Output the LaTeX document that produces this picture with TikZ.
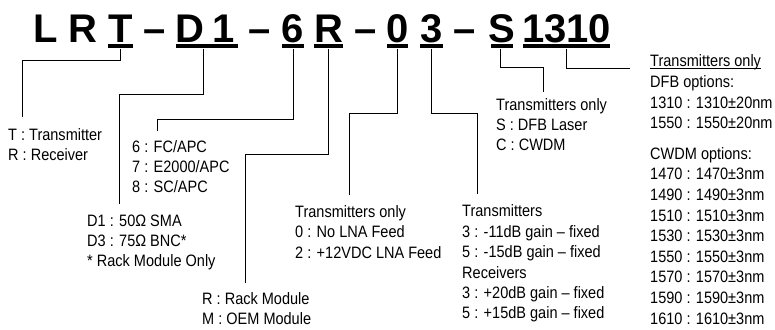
\documentclass[tikz,border=0pt]{standalone}
\usepackage{fontspec}
\setmainfont{Liberation Sans}[FakeStretch=0.88]
\newfontfamily\titlefont{Liberation Sans}
\begin{document}
\begin{tikzpicture}[x=1pt,y=-1pt,
  txt/.style={inner sep=0pt, anchor=base west, font=\fontsize{16.5}{19}\selectfont},
  ttl/.style={inner sep=0pt, anchor=base, font=\titlefont\bfseries\fontsize{40}{40}\selectfont},
  ubar/.style={fill=black, inner sep=0pt, minimum height=4.5pt},
  conn/.style={line width=0.9pt, black}]
\useasboundingbox (0,0) rectangle (775,329);
% title characters
\node[ttl] (cL)  at (45.5,42) {L};
\node[ttl] (cR1) at (82.5,42) {R};
\node[ttl] (cT)  at (120.5,42) {T};
\node[ttl] (d1)  at (154.5,42) {–};
\node[ttl] (cD)  at (190,42) {D};
\node[ttl] (c1)  at (224,42) {1};
\node[ttl] (d2)  at (259.5,42) {–};
\node[ttl] (c6)  at (293,42) {6};
\node[ttl] (cR2) at (328.5,42) {R};
\node[ttl] (d3)  at (366,42) {–};
\node[ttl] (c0)  at (398,42) {0};
\node[ttl] (c3)  at (431.5,42) {3};
\node[ttl] (d4)  at (465,42) {–};
\node[ttl] (cS)  at (502,42) {S};
\node[ttl] (cN)  at (566.5,42) {1310};
% underline bars
\node[ubar, minimum width=25pt] (uT) at (120.5,46.25) {};
\node[ubar, minimum width=62pt] (uD) at (207,46.25) {};
\node[ubar, minimum width=22pt] (u6) at (293,46.25) {};
\node[ubar, minimum width=29pt] (uR) at (328.5,46.25) {};
\node[ubar, minimum width=21pt] (u0) at (397.5,46.25) {};
\node[ubar, minimum width=23pt] (u3) at (431.5,46.25) {};
\node[ubar, minimum width=22pt] (uS) at (502,46.25) {};
\node[ubar, minimum width=87pt] (uN) at (566.5,46.25) {};
% connector ends
\coordinate (eT) at (22,117);
\coordinate (eD) at (119,204);
\coordinate (e6) at (157,131);
\coordinate (eR) at (245,283);
\coordinate (e0) at (349,195);
\coordinate (e3) at (477,194);
\coordinate (eS) at (543,92);
\coordinate (eN) at (630,68);
% connectors
\draw[conn] (uT.south) -- ++(0,11.5) -| (eT);
\draw[conn] ([xshift=-4pt]uD.south) -- ++(0,45.5) -| (eD);
\draw[conn] (u6.south) -- ++(0,70.5) -| (e6);
\draw[conn] ([xshift=-0.5pt]uR.south) -- ++(0,105.5) -| (eR);
\draw[conn] (u0.south) -- ++(0,64.5) -| (e0);
\draw[conn] (u3.south) -- ++(0,64.5) -| (e3);
\draw[conn] ([xshift=-2pt]uS.south) -- ++(0,19) -| (eS);
\draw[conn] (uN.south) |- (eN);
% T group
\node[txt] (t1) at (8,140.8) {T : Transmitter};
\node[txt] (t2) at (8,160.8) {R : Receiver};
% 6 group
\node[txt] (s1) at (132,152.8) {6 : FC/APC};
\node[txt] (s2) at (132,172.8) {7 : E2000/APC};
\node[txt] (s3) at (132,192.8) {8 : SC/APC};
% D group
\node[txt] (k1) at (87,226.8) {D1 : 50Ω SMA};
\node[txt] (k2) at (87,246.8) {D3 : 75Ω BNC*};
\node[txt] (k3) at (87,266.8) {* Rack Module Only};
% R group
\node[txt] (m1) at (202,304.8) {R : Rack Module};
\node[txt] (m2) at (202,324.3) {M : OEM Module};
% 0 group
\node[txt] (f1) at (295,217.3) {Transmitters only};
\node[txt] (f2) at (295,237.7) {0 : No LNA Feed};
\node[txt] (f3) at (295,258.1) {2 : +12VDC LNA Feed};
% 3 group
\node[txt] (g1) at (462,216.8) {Transmitters};
\node[txt] (g2) at (462,237.2) {3 : -11dB gain – fixed};
\node[txt] (g3) at (462,257.6) {5 : -15dB gain – fixed};
\node[txt] (g4) at (462,278.0) {Receivers};
\node[txt] (g5) at (462,298.4) {3 : +20dB gain – fixed};
\node[txt] (g6) at (462,318.8) {5 : +15dB gain – fixed};
% S group
\node[txt] (h1) at (496,110.8) {Transmitters only};
\node[txt] (h2) at (496,130.8) {S : DFB Laser};
\node[txt] (h3) at (496,150.8) {C : CWDM};
% wavelength group
\node[txt] (w0) at (650,66.8) {Transmitters only};
\draw[line width=0.8pt] ([yshift=-1.6pt]w0.base west) -- ([yshift=-1.6pt]w0.base east);
\node[txt] (w1) at (650,87.4) {DFB options:};
\node[txt] (w2) at (650,108.0) {1310 : 1310±20nm};
\node[txt] (w3) at (650,128.6) {1550 : 1550±20nm};
\node[txt] (w4) at (650,159.2) {CWDM options:};
\node[txt] (w5) at (650,179.8) {1470 : 1470±3nm};
\node[txt] (w6) at (650,200.4) {1490 : 1490±3nm};
\node[txt] (w7) at (650,221.0) {1510 : 1510±3nm};
\node[txt] (w8) at (650,241.6) {1530 : 1530±3nm};
\node[txt] (w9) at (650,262.2) {1550 : 1550±3nm};
\node[txt] (w10) at (650,282.8) {1570 : 1570±3nm};
\node[txt] (w11) at (650,303.4) {1590 : 1590±3nm};
\node[txt] (w12) at (650,324.0) {1610 : 1610±3nm};
\end{tikzpicture}
\end{document}
